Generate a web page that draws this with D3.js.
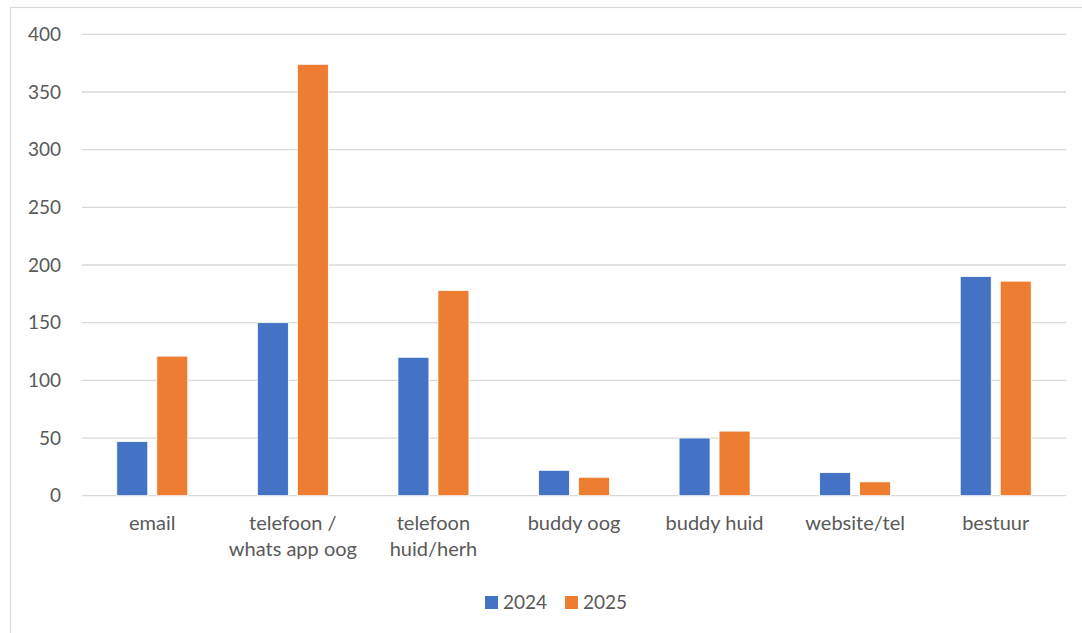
<!DOCTYPE html>
<html>
<head>
<meta charset="utf-8">
<script src="https://cdn.jsdelivr.net/npm/d3@7"></script>
<style>
  body { margin: 0; background: #fff; }
  text { font-family: Lato, "Noto Sans", sans-serif; fill: #595959; }
</style>
</head>
<body>
<svg id="chart" width="1082" height="633"></svg>
<script>
const categories = [["email"], ["telefoon /", "whats app oog"], ["telefoon", "huid/herh"], ["buddy oog"], ["buddy huid"], ["website/tel"], ["bestuur"]];
const series = ["2024", "2025"];
const values2024 = [47, 150, 120, 22, 50, 20, 190];
const values2025 = [121, 374, 178, 16, 56, 12, 186];
const yTicks = [0, 50, 100, 150, 200, 250, 300, 350, 400];
const colors = ["#4472c4", "#ed7d31"];

const svg = d3.select("#chart");
const margin = { left: 82, right: 1066, top: 34.3, bottom: 495.7 };

// chart frame
svg.append("rect")
  .attr("x", 10.5).attr("y", 7.5)
  .attr("width", 1200).attr("height", 800)
  .attr("fill", "none").attr("stroke", "#d9d9d9").attr("stroke-width", 1.2);

const keys = categories.map(c => c.join(" "));
const x = d3.scaleBand().domain(keys).range([margin.left, margin.right]);
const y = d3.scaleLinear().domain([0, 400]).range([margin.bottom, margin.top]);

const bw = x.bandwidth();
const xSub = d3.scaleBand().domain(series)
  .range([(bw - 71) / 2, (bw + 71) / 2]).paddingInner(0.225);

// gridlines
svg.append("g").selectAll("line").data(yTicks).join("line")
  .attr("x1", margin.left).attr("x2", margin.right)
  .attr("y1", d => y(d)).attr("y2", d => y(d))
  .attr("stroke", "#d9d9d9").attr("stroke-width", 1.3);

// y labels
svg.append("g").selectAll("text").data(yTicks).join("text")
  .attr("x", 61).attr("y", d => y(d))
  .attr("dy", "0.35em")
  .attr("text-anchor", "end")
  .attr("font-size", 19)
  .text(d => d);

const rows = keys.map((k, i) => ({ key: k, vals: [values2024[i], values2025[i]] }));

const groups = svg.append("g").selectAll("g").data(rows).join("g")
  .attr("transform", d => `translate(${x(d.key)},0)`);

groups.selectAll("rect").data(d => d.vals.map((v, j) => ({ s: series[j], v, j }))).join("rect")
  .attr("x", d => xSub(d.s))
  .attr("width", xSub.bandwidth())
  .attr("y", d => y(d.v))
  .attr("height", d => y(0) - y(d.v))
  .attr("fill", d => colors[d.j])
  .attr("stroke", "#fff").attr("stroke-width", 0.8);

// category labels
const catLabels = svg.append("g").selectAll("text").data(categories).join("text")
  .attr("text-anchor", "middle")
  .attr("font-size", 20)
  .attr("x", (d, i) => x(keys[i]) + bw / 2)
  .attr("y", 530);
catLabels.selectAll("tspan").data(d => d).join("tspan")
  .attr("x", function () { return d3.select(this.parentNode).attr("x"); })
  .attr("dy", (d, i) => i === 0 ? 0 : 26)
  .text(d => d);

// legend
const legend = svg.append("g").selectAll("g").data(series).join("g")
  .attr("transform", (d, i) => `translate(${485 + i * 80},596)`);
legend.append("rect").attr("width", 13).attr("height", 13)
  .attr("fill", (d, i) => colors[i]);
legend.append("text").attr("x", 18).attr("y", 6.5).attr("dy", "0.35em")
  .attr("font-size", 19).text(d => d);
</script>
</body>
</html>
